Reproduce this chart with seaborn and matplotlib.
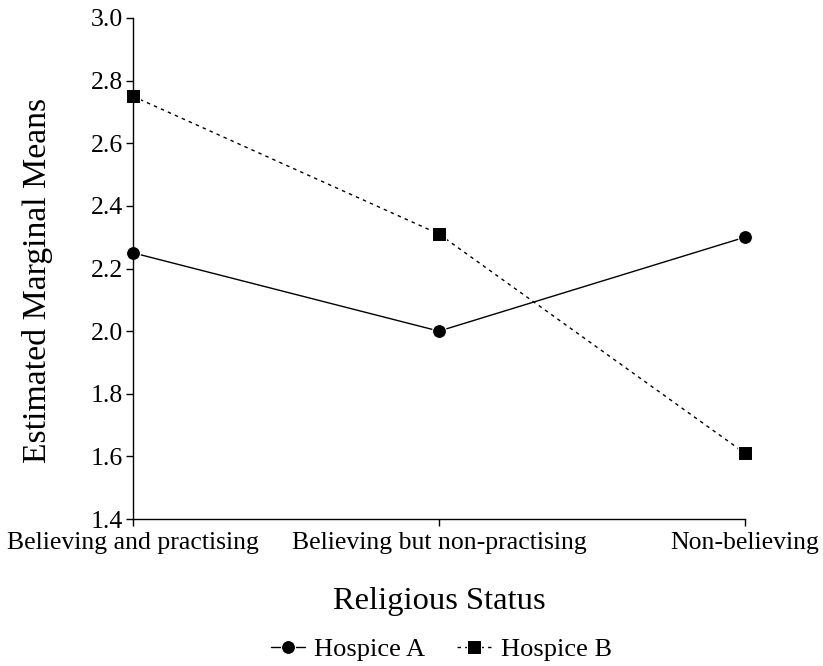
import matplotlib
matplotlib.use("Agg")
import matplotlib.pyplot as plt
import seaborn as sns
import pandas as pd

categories = ["Believing and practising", "Believing but non-practising", "Non-believing"]
hospice_a = [2.25, 2.00, 2.30]
hospice_b = [2.75, 2.31, 1.61]
y_ticks = [1.4, 1.6, 1.8, 2.0, 2.2, 2.4, 2.6, 2.8, 3.0]

df = pd.DataFrame({
    "Religious Status": categories * 2,
    "mean": hospice_a + hospice_b,
    "group": ["Hospice A"] * 3 + ["Hospice B"] * 3,
})

sns.set_style("white")
plt.rcParams["font.family"] = ["Liberation Serif", "DejaVu Serif"]
plt.rcParams["text.color"] = "black"
plt.rcParams["axes.labelcolor"] = "black"

fig = plt.figure(figsize=(8.23, 6.66), dpi=100)
ax = fig.add_axes([133/823, 1 - 519/666, (745 - 133)/823, (519 - 18)/666])

sns.lineplot(data=df, x="Religious Status", y="mean", hue="group", style="group",
             markers={"Hospice A": "o", "Hospice B": "s"},
             dashes={"Hospice A": "", "Hospice B": (2.5, 3)},
             palette={"Hospice A": "black", "Hospice B": "black"},
             markersize=10, linewidth=1.0, ax=ax, sort=False)
for ln in ax.lines:
    ln.set_clip_on(False)

ax.set_xlim(0, 2)
ax.set_ylim(1.4, 3.0)
ax.set_yticks(y_ticks)
ax.set_yticklabels([f"{t:.1f}" for t in y_ticks])
ax.set_xticks(range(len(categories)))
ax.set_xticklabels(categories)
ax.tick_params(axis="both", labelsize=18.5, length=5, width=1, direction="out",
               colors="black", bottom=True, left=True)
ax.tick_params(axis="x", pad=4)
ax.tick_params(axis="y", pad=2)
for s in ["top", "right"]:
    ax.spines[s].set_visible(False)
for s in ["left", "bottom"]:
    ax.spines[s].set_color("black")
    ax.spines[s].set_linewidth(1.0)

ax.set_ylabel("Estimated Marginal Means", fontsize=24.3)
ax.yaxis.set_label_coords(-0.131, 0.476)
ax.set_xlabel("Religious Status", fontsize=23.4, labelpad=24)

handles, labels = ax.get_legend_handles_labels()
ax.get_legend().remove()
fig.legend(handles, labels, loc="center", bbox_to_anchor=(0.536, 0.025), ncol=2,
           frameon=False, fontsize=19, handlelength=1.3, columnspacing=1.2, handletextpad=0.35)

fig.savefig("out.png", dpi=100)
